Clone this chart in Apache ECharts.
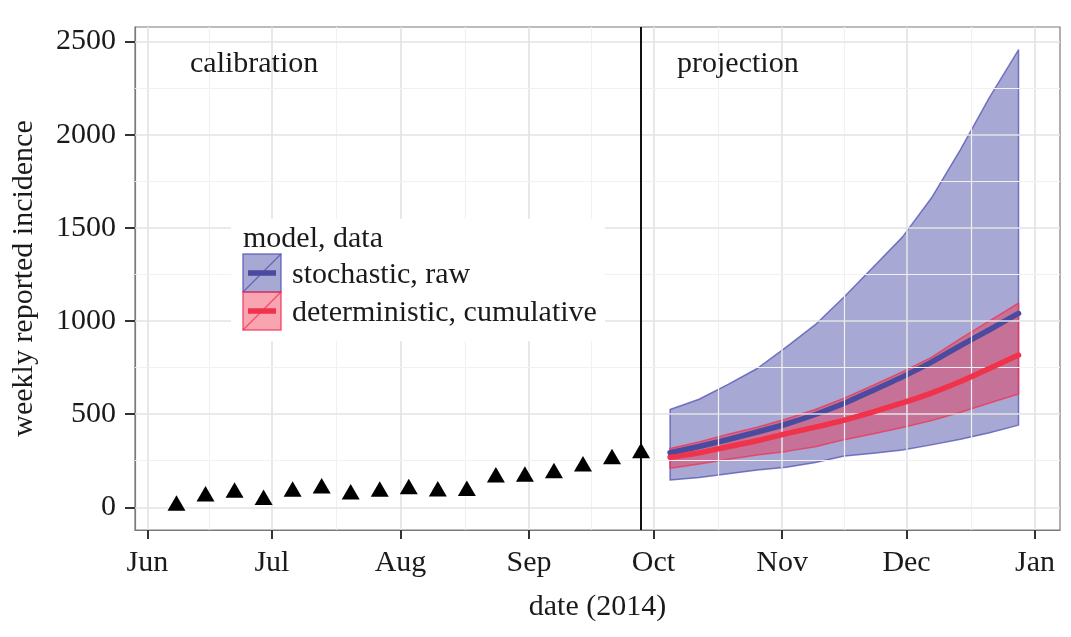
<!DOCTYPE html>
<html>
<head>
<meta charset="utf-8">
<script src="https://cdn.jsdelivr.net/npm/echarts@6/dist/echarts.min.js"></script>
<style>
  html, body { margin: 0; padding: 0; background: #fff; }
  #chart { width: 1071px; height: 637px; }
</style>
</head>
<body>
<div id="chart"></div>
<script>
// observed weekly incidence (calibration period)
var obsDates = ['2014-06-08', '2014-06-15', '2014-06-22', '2014-06-29', '2014-07-06', '2014-07-13',
  '2014-07-20', '2014-07-27', '2014-08-03', '2014-08-10', '2014-08-17', '2014-08-24',
  '2014-08-31', '2014-09-07', '2014-09-14', '2014-09-21', '2014-09-28'];
var obsCases = [9, 59, 79, 40, 84, 101, 70, 84, 97, 85, 88, 160, 165, 183, 219, 259, 291];

// projection weeks
var projDates = ['2014-10-05', '2014-10-12', '2014-10-19', '2014-10-26', '2014-11-02', '2014-11-09',
  '2014-11-16', '2014-11-23', '2014-11-30', '2014-12-07', '2014-12-14', '2014-12-21', '2014-12-28'];
// stochastic, raw
var stochMedian = [293, 326, 364, 404, 447, 498, 558, 628, 700, 779, 868, 953, 1041];
var stochLower = [146, 160, 180, 200, 215, 240, 275, 290, 308, 335, 365, 400, 441];
var stochUpper = [525, 580, 660, 745, 860, 980, 1130, 1290, 1450, 1660, 1920, 2200, 2455];
// deterministic, cumulative
var detMedian = [268, 292, 325, 357, 395, 430, 468, 512, 560, 613, 675, 745, 817];
var detLower = [209, 232, 258, 280, 300, 325, 363, 395, 428, 465, 510, 560, 608];
var detUpper = [316, 350, 392, 430, 474, 525, 586, 655, 727, 805, 905, 1000, 1096];

var monthTicks = ['2014-06-01', '2014-07-01', '2014-08-01', '2014-09-01', '2014-10-01',
  '2014-11-01', '2014-12-01', '2015-01-01'];
var monthNames = ['Jan', 'Feb', 'Mar', 'Apr', 'May', 'Jun', 'Jul', 'Aug', 'Sep', 'Oct', 'Nov', 'Dec'];
var yTicks = [0, 500, 1000, 1500, 2000, 2500];
var splitDate = '2014-09-28';

var FONT = 'Liberation Serif';
var TXT = '30px "Liberation Serif"';
var t = function (s) { return +echarts.time.parse(s); };
var monthTs = monthTicks.map(t);

// grid lines (major at ticks, minor half way between)
var gridLines = [];
monthTs.forEach(function (v, i) {
  gridLines.push({ xAxis: v, lineStyle: { color: '#e3e3e3', width: 1.6, type: 'solid' } });
  if (i > 0) gridLines.push({ xAxis: (v + monthTs[i - 1]) / 2, lineStyle: { color: '#f1f1f1', width: 1.2, type: 'solid' } });
});
yTicks.forEach(function (v, i) {
  gridLines.push({ yAxis: v, lineStyle: { color: '#e3e3e3', width: 1.6, type: 'solid' } });
  if (i > 0) gridLines.push({ yAxis: (v + yTicks[i - 1]) / 2, lineStyle: { color: '#f1f1f1', width: 1.2, type: 'solid' } });
});

function ribbon(lo, hi, fill, stroke, z) {
  var n = projDates.length;
  return {
    type: 'custom',
    z: z,
    silent: true,
    data: projDates.map(function (d, i) { return [t(d), lo[i], hi[i]]; }),
    encode: { x: 0, y: [1, 2] },
    renderItem: function (params, api) {
      if (params.dataIndex !== n - 1) return;
      var top = [], bot = [];
      for (var i = 0; i < n; i++) {
        top.push(api.coord([t(projDates[i]), hi[i]]));
        bot.unshift(api.coord([t(projDates[i]), lo[i]]));
      }
      return {
        type: 'polygon',
        shape: { points: top.concat(bot) },
        style: { fill: fill, stroke: stroke, lineWidth: 1.5, lineJoin: 'round' }
      };
    }
  };
}

function medianLine(vals, color, z) {
  return {
    type: 'line',
    z: z,
    silent: true,
    symbol: 'none',
    smooth: 0.2,
    data: projDates.map(function (d, i) { return [t(d), vals[i]]; }),
    lineStyle: { color: color, width: 5.5, cap: 'round' }
  };
}

var chart = echarts.init(document.getElementById('chart'), null, { renderer: 'canvas' });

// legend swatch drawn by hand (ggplot style key)
function swatch(y, fill, stroke, lineColor) {
  return [
    { type: 'rect', shape: { x: 243, y: y, width: 38, height: 38 },
      style: { fill: fill, stroke: stroke, lineWidth: 1.5 }, z: 101 },
    { type: 'line', shape: { x1: 243, y1: y + 38, x2: 281, y2: y },
      style: { stroke: stroke, lineWidth: 1.2 }, z: 102 },
    { type: 'line', shape: { x1: 248, y1: y + 19, x2: 276, y2: y + 19 },
      style: { stroke: lineColor, lineWidth: 5.5 }, z: 103 }
  ];
}

var option = {
  animation: false,
  backgroundColor: '#fff',
  textStyle: { fontFamily: FONT },
  grid: {
    left: 135, right: 11, top: 27, bottom: 107,
    show: true, backgroundColor: '#fff', borderColor: '#7a7a7a', borderWidth: 1.2
  },
  xAxis: {
    type: 'value',
    min: t('2014-05-29'),
    max: t('2015-01-07'),
    name: 'date (2014)',
    nameLocation: 'middle',
    nameGap: 62,
    nameTextStyle: { fontFamily: FONT, fontSize: 30, color: '#1a1a1a' },
    axisLine: { show: true, onZero: false, lineStyle: { color: '#7a7a7a', width: 1.2 } },
    axisTick: { show: true, customValues: monthTs, length: 9, lineStyle: { color: '#333', width: 2 } },
    axisLabel: {
      customValues: monthTs,
      margin: 18,
      fontFamily: FONT, fontSize: 30, color: '#1a1a1a',
      formatter: function (v) { return monthNames[new Date(v).getMonth()]; }
    },
    splitLine: { show: false }
  },
  yAxis: {
    type: 'value',
    min: -122,
    max: 2578,
    name: 'weekly reported incidence',
    nameLocation: 'middle',
    nameGap: 96,
    nameTextStyle: { fontFamily: FONT, fontSize: 30, color: '#1a1a1a' },
    axisLine: { show: true, onZero: false, lineStyle: { color: '#7a7a7a', width: 1.2 } },
    axisTick: { show: true, inside: false, customValues: yTicks, length: 10, lineStyle: { color: '#333', width: 2 } },
    axisLabel: {
      customValues: yTicks, margin: 19, fontFamily: FONT, fontSize: 30, color: '#1a1a1a',
      formatter: function (v) { return String(v); }
    },
    splitLine: { show: false }
  },
  graphic: [
    { type: 'text', left: 190, top: 49, z: 100,
      style: { text: 'calibration', font: TXT, fill: '#1a1a1a' } },
    { type: 'text', left: 677, top: 49, z: 100,
      style: { text: 'projection', font: TXT, fill: '#1a1a1a' } },
    { type: 'group', z: 100, children: [
      { type: 'rect', shape: { x: 231, y: 219, width: 374, height: 122 }, style: { fill: '#fff' }, z: 100 },
      { type: 'text', x: 243, y: 224, z: 101,
        style: { text: 'model, data', font: TXT, fill: '#1a1a1a' } }
    ].concat(
      swatch(254, 'rgba(63,63,160,0.45)', 'rgba(80,80,180,0.75)', '#4a4a9e'),
      swatch(292, 'rgba(240,40,70,0.42)', 'rgba(240,50,80,0.75)', '#f0324b'),
      [
        { type: 'text', x: 292, y: 260, z: 101,
          style: { text: 'stochastic, raw', font: TXT, fill: '#1a1a1a' } },
        { type: 'text', x: 292, y: 298, z: 101,
          style: { text: 'deterministic, cumulative', font: TXT, fill: '#1a1a1a' } }
      ]) }
  ],
  series: [
    {
      // background grid lines
      type: 'line', z: 0, silent: true, data: [],
      markLine: { silent: true, symbol: 'none', label: { show: false }, animation: false, data: gridLines }
    },
    ribbon(stochLower, stochUpper, 'rgba(63,63,160,0.45)', 'rgba(80,80,180,0.75)', 2),
    ribbon(detLower, detUpper, 'rgba(240,40,70,0.42)', 'rgba(240,50,80,0.75)', 3),
    medianLine(stochMedian, '#4a4a9e', 4),
    medianLine(detMedian, '#f0324b', 5),
    {
      type: 'scatter',
      z: 6,
      silent: true,
      symbol: 'triangle',
      symbolSize: [18, 15.5],
      symbolOffset: [0, -2.6],
      itemStyle: { color: '#000', opacity: 1 },
      data: obsDates.map(function (d, i) { return [t(d), obsCases[i]]; }),
      markLine: {
        silent: true, symbol: 'none', label: { show: false }, animation: false,
        lineStyle: { color: '#111', width: 2, type: 'solid' },
        data: [{ xAxis: t(splitDate) }]
      }
    }
  ]
};
chart.setOption(option);
</script>
</body>
</html>
